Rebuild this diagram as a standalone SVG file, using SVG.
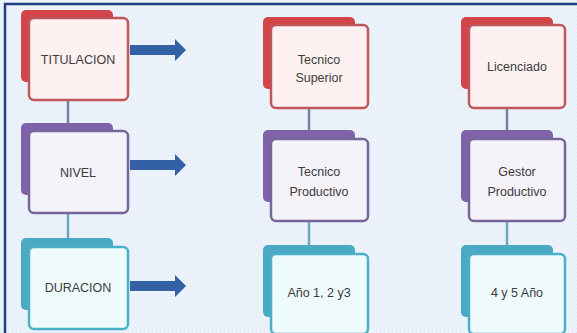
<svg xmlns="http://www.w3.org/2000/svg" width="577" height="333" viewBox="0 0 577 333">
<defs>
<style>
.frame{fill:none;stroke:#1f3f80;stroke-width:2.5}
.br{fill:#d2454b}.fr{fill:#fdf1f2;stroke:#c0565a;stroke-width:2.5}
.bp{fill:#7f62a8}.fp{fill:#f6f2fa;stroke:#76679a;stroke-width:2.5}
.bt{fill:#4aa9c4}.ft{fill:#effafc;stroke:#4ab0c8;stroke-width:2.5}
.t{font-family:"Liberation Sans",Arial,sans-serif;font-size:12.5px;fill:#3c3c3c;text-anchor:middle;dominant-baseline:central}
.ln{stroke:#6f84a8;stroke-width:2.5;fill:none}
.ln2{stroke:#6aa8bc;stroke-width:2.5;fill:none}
.ar{fill:#3461a6}
</style>
<pattern id="dots" width="4" height="4" patternUnits="userSpaceOnUse">
<rect width="4" height="4" fill="#edf3fa"/>
<rect width="1" height="1" fill="#dde7f4"/>
<rect x="2" y="2" width="1" height="1" fill="#dde7f4"/>
</pattern>
</defs>
<rect width="577" height="333" fill="url(#dots)"/>
<rect class="frame" x="5" y="4" width="590" height="350"/>

<g id="connectors">
<line class="ln" x1="68" y1="100" x2="68" y2="123"/>
<line class="ln2" x1="68" y1="213" x2="68" y2="239"/>
<line class="ln" x1="309" y1="108" x2="309" y2="131"/>
<line class="ln2" x1="309" y1="221" x2="309" y2="245"/>
<line class="ln" x1="507" y1="108" x2="507" y2="131"/>
<line class="ln2" x1="507" y1="221" x2="507" y2="245"/>
<path class="ar" d="M130,45 H175 V39 L186,50 L175,61 V55 H130 Z"/>
<path class="ar" d="M130,160 H175 V154 L186,165 L175,176 V170 H130 Z"/>
<path class="ar" d="M130,281 H175 V275 L186,286 L175,297 V291 H130 Z"/>
</g>

<g id="titulacion">
<rect class="br" x="21" y="10" width="92" height="72" rx="5"/>
<rect class="fr" x="29" y="18" width="99" height="82" rx="5"/>
<text class="t" x="78" y="60">TITULACION</text>
</g>
<g id="nivel">
<rect class="bp" x="21" y="123" width="92" height="72" rx="5"/>
<rect class="fp" x="29" y="131" width="99" height="82" rx="5"/>
<text class="t" x="78" y="173">NIVEL</text>
</g>
<g id="duracion">
<rect class="bt" x="21" y="238" width="92" height="72" rx="5"/>
<rect class="ft" x="29" y="247" width="99" height="82" rx="5"/>
<text class="t" x="78" y="288">DURACION</text>
</g>

<g id="tecnico-superior">
<rect class="br" x="263" y="17" width="92" height="72" rx="5"/>
<rect class="fr" x="271" y="25" width="97" height="83" rx="5"/>
<text class="t" x="319" y="60">Tecnico</text>
<text class="t" x="319" y="78">Superior</text>
</g>
<g id="licenciado">
<rect class="br" x="461" y="17" width="92" height="72" rx="5"/>
<rect class="fr" x="469" y="25" width="96" height="83" rx="5"/>
<text class="t" x="517" y="67">Licenciado</text>
</g>

<g id="tecnico-productivo">
<rect class="bp" x="263" y="130" width="92" height="72" rx="5"/>
<rect class="fp" x="271" y="139" width="97" height="82" rx="5"/>
<text class="t" x="319" y="172">Tecnico</text>
<text class="t" x="319" y="192">Productivo</text>
</g>
<g id="gestor-productivo">
<rect class="bp" x="461" y="130" width="92" height="72" rx="5"/>
<rect class="fp" x="469" y="139" width="96" height="82" rx="5"/>
<text class="t" x="517" y="172">Gestor</text>
<text class="t" x="517" y="192">Productivo</text>
</g>

<g id="anio-123">
<rect class="bt" x="263" y="245" width="92" height="72" rx="5"/>
<rect class="ft" x="271" y="254" width="97" height="80" rx="5"/>
<text class="t" x="319" y="293">Año 1, 2 y3</text>
</g>
<g id="anio-45">
<rect class="bt" x="461" y="245" width="92" height="72" rx="5"/>
<rect class="ft" x="469" y="254" width="96" height="80" rx="5"/>
<text class="t" x="517" y="293">4 y 5 Año</text>
</g>
</svg>
